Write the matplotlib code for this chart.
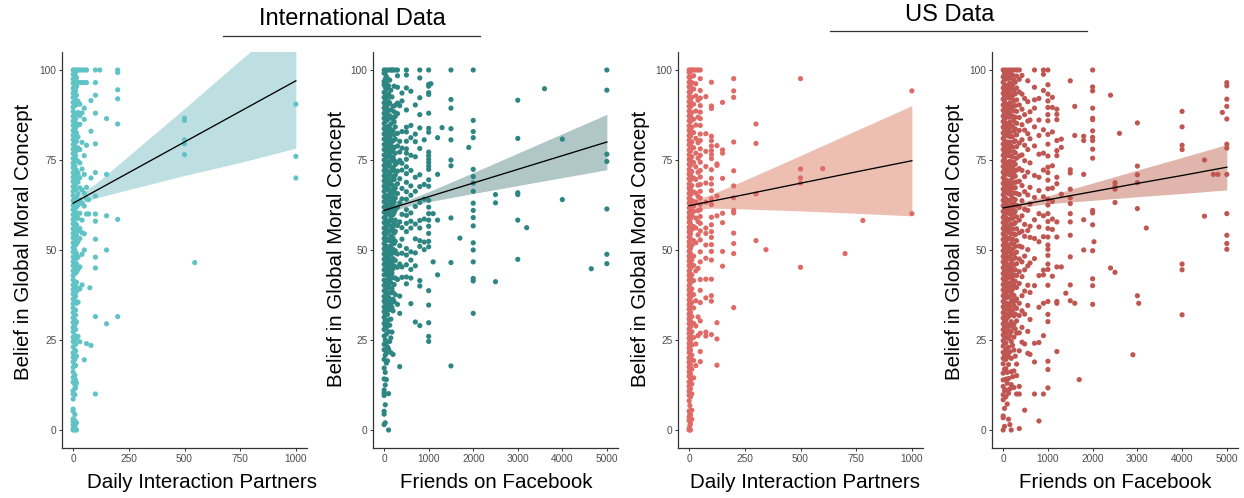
import matplotlib
matplotlib.use("Agg")
import matplotlib.pyplot as plt
from matplotlib.lines import Line2D

plt.rcParams['font.family'] = ['Liberation Sans', 'DejaVu Sans']

# ---------------- International data: daily interaction partners ----------------
intl_daily_x = [0, 8, 11, 15, 22, 30, 40, 50, 60, 70, 75, 80, 100, 120, 150, 200, 500, 546, 1000]
intl_daily_y = [
    [0, 0.5, 1.5, 2.4, 3.1, 5.2, 5.8, 8.6, 10, 10.9, 13.3, 14.6, 16.1, 17.4, 18.9, 20.2, 21.4, 23.1,
     24.6, 25.8, 27.3, 28.5, 29.9, 31.2, 32.6, 33.9, 35.1, 36.4, 37.8, 39, 40.3, 41.7, 42.9, 44.2,
     45.6, 46.8, 48.1, 49.5, 50.7, 52, 53.4, 54.6, 55.9, 57.3, 58.5, 59.8, 61.2, 62.4, 63.7, 65.1,
     66.3, 67.6, 69, 70.2, 71.5, 72.9, 74.1, 75.4, 76.8, 78, 79.3, 80.7, 81.9, 83.2, 84.6, 85.8,
     87.1, 88.5, 89.7, 91, 92.4, 93.6, 94.9, 96.3, 97.5, 98.8, 100],
    [0, 1, 2.6, 4.3, 9.8, 11.5, 12.5, 15.2, 18, 19.6, 22.2, 25, 26.2, 29.2, 30.5, 33.4, 35.7, 37.1,
     39.8, 41.2, 43.6, 45, 47.5, 49.9, 51.3, 53.8, 56.2, 57.6, 60.1, 62.9, 64.4, 66.8, 68.3, 70.7,
     73.3, 74.7, 77.2, 79.8, 81.1, 83.6, 86.2, 87.6, 90.1, 92.7, 94.1, 96.6, 99, 100],
    [0.3, 1.9, 11.8, 13.9, 17.9, 21.9, 23.8, 27.9, 31.9, 33.3, 35.8, 37.2, 39.7, 41.1, 43.6, 45,
     47.5, 48.9, 51.4, 52.8, 55.3, 56.7, 59.2, 60.6, 63.1, 64.5, 67, 68.4, 70.9, 72.3, 74.8, 76.2,
     78.7, 80.1, 82.6, 84, 86.5, 87.9, 90.4, 91.8, 94.3, 95.7, 98.2, 99.6],
    [0, 2, 13, 20.5, 25.4, 30, 35.2, 38.5, 41, 43.9, 46.2, 49, 51.8, 54.1, 57, 59.5, 61.9, 64.8, 67,
     69.6, 72.1, 75, 77.6, 80.2, 82.5, 85.1, 87.9, 90.4, 93, 95.4, 97.8, 100],
    [26, 35.5, 39.4, 44.6, 48, 52.3, 55.3, 58.8, 62.5, 65.7, 68.9, 71.4, 74.6, 78.3, 81.4, 84.7,
     88.2, 91.3, 96.5, 100],
    [24.5, 39.2, 45.3, 53.2, 56, 60.2, 63.8, 67.3, 70.1, 74.2, 77.9, 84.9, 87.3, 90.5, 96.5, 100],
    [40.3, 48.8, 54.8, 58.3, 62.9, 66.7, 72.5, 79.9, 88.1, 96.5, 100],
    [19.5, 50, 54.5, 62.2, 65.8, 71, 76.2, 86.3, 89.4, 96.5, 100],
    [24, 60, 64.3, 67.4, 79.1, 96.5, 100],
    [60, 64],
    [39.5],
    [23.5, 70, 83, 91.5],
    [10, 31.5, 45, 48, 53, 58, 60, 65, 71.5, 79.5, 88, 93, 96.5, 100],
    [100],
    [29.5, 50, 59.5, 71, 86.5],
    [31.5, 58.5, 85, 92, 94.5, 99.3, 100],
    [76.5, 79.5, 80.6, 86, 86.6],
    [46.5],
    [70, 76, 90.5],
]
intl_daily_fit_x = [0, 100, 250, 500, 750, 1000]
intl_daily_fit = [63, 66.4, 71.5, 80, 88.5, 97]
intl_daily_lo = [61.8, 64.4, 66.8, 70.7, 74.3, 78.3]
intl_daily_hi = [64.2, 68.4, 76.2, 89.3, 102.7, 115.7]

# ---------------- International data: friends on Facebook ----------------
intl_fb_x = [0, 25, 50, 75, 100, 125, 150, 175, 200, 225, 250, 300, 350, 400, 500, 600, 700, 800,
             900, 1000, 1050, 1100, 1200, 1300, 1500, 1700, 1900, 2000, 2500, 3000, 3200, 3600,
             4000, 4650, 5000]
intl_fb_y = [
    [1.5, 4.4, 5.2, 9.6, 10.3, 11.1, 14.2, 17.2, 19.6, 22.3, 23.8, 26.1, 27.9, 29.6, 31.3, 32.9,
     34.2, 35.8, 37.1, 38.7, 40.2, 41.6, 43.1, 44.5, 46, 47.4, 48.9, 50.3, 51.8, 53.2, 54.7, 56.1,
     57.6, 59, 60.5, 61.9, 63.4, 64.8, 66.3, 67.7, 69.2, 70.6, 72.1, 73.5, 75, 76.4, 77.9, 79.3,
     80.8, 82.2, 83.7, 85.1, 86.6, 88, 89.5, 90.9, 92.4, 93.8, 95.9, 96.8, 99.1, 100],
    [2, 7, 12.5, 16, 20.8, 25, 28.7, 30.5, 32.1, 33.7, 35.3, 36.9, 38.4, 40, 41.6, 43.2, 44.8,
     46.3, 47.9, 49.5, 51.1, 52.6, 54.2, 55.8, 57.4, 58.9, 60.5, 62.1, 63.7, 65.2, 66.8, 68.4, 70,
     71.5, 73.1, 74.7, 76.3, 77.8, 79.4, 81, 82.6, 84.1, 85.7, 87.3, 88.9, 90.4, 92, 93.6, 95.2,
     97.5, 99.4],
    [14, 18.6, 21.4, 24.3, 26.6, 28.5, 30.3, 33.1, 35.9, 37.4, 39.3, 41.2, 43.4, 45.3, 47.2, 49.2,
     51.1, 52.7, 54.6, 56.5, 58.1, 59.9, 61.8, 63.5, 64.9, 66.8, 68.7, 70.3, 72.2, 73.9, 75.6,
     77.3, 79.2, 80.6, 82.5, 84.1, 86, 87.7, 89.6, 91.1, 92.9, 94.8, 96.3, 98.2, 100],
    [19.2, 23.1, 29.4, 32.1, 35, 38.2, 40.6, 43, 45.7, 48.1, 50.3, 52.9, 55.3, 57.6, 60.2, 62.5,
     64.1, 67.4, 69.9, 71.6, 74.5, 76.9, 79.4, 81.5, 83.9, 86.2, 88.6, 90.3, 92.8, 95.1, 97.6],
    [0, 10.1, 22.5, 27.3, 30.6, 34.2, 36.8, 39.9, 42.1, 44.2, 46.4, 48.5, 50.7, 53.1, 55.2, 57.9,
     60.1, 62.3, 64.7, 66.9, 69.2, 71.4, 73.8, 76.1, 78.3, 80.7, 82.9, 84.4, 86.5, 88.8, 91.2,
     93.4, 95.6, 100],
    [24.6, 29.1, 33.4, 36.3, 39.5, 41.8, 44.9, 47.3, 50, 52.6, 55.3, 58.1, 60.9, 63.2, 65.7, 68.2,
     70.8, 73.3, 75.9, 78.7, 81.3, 83.7, 87.3, 90.8, 92.6, 97.2],
    [21.5, 25.6, 30.8, 35.2, 38.1, 40.9, 43.3, 46.1, 48.8, 51.2, 53.9, 56.7, 59.3, 61.8, 64.2,
     66.4, 69.1, 71.8, 74.6, 77.1, 79.4, 82.2, 85, 88.9, 94.4, 100],
    [27.2, 34.1, 39.3, 43.6, 46.7, 49.9, 52.5, 55.5, 58.2, 61.1, 63.9, 66.7, 69.4, 72.2, 74.8,
     77.7, 80.5, 83.3, 86.8, 92.5, 100],
    [21, 33.1, 36.3, 38.2, 42.3, 44.8, 47.6, 50.2, 53.3, 56.4, 59.8, 62.7, 65.1, 67.9, 70.4, 72.9,
     75.8, 78.1, 80.3, 83.1, 86.3, 89.9, 100],
    [35.6, 40.4, 45.6, 49.2, 51.8, 54.7, 57.6, 60.4, 63.3, 66.1, 69.6, 72.1, 74.9, 78.5, 82, 85.6,
     88.4, 95.5],
    [37.6, 42.2, 47.1, 49.8, 52.4, 55.2, 58.3, 61.1, 64.4, 67.2, 70.8, 73.7, 76.9, 80.8, 84.2,
     87.1, 90.2, 100],
    [34.9, 41.8, 45.2, 48.9, 56.8, 61.9, 65.7, 68.4, 71.9, 74.3, 78.9, 82.4, 87.9, 90.8, 95.2,
     98.4, 100],
    [17.6, 32.4, 37.2, 46.1, 51.2, 57.8, 63.1, 69.8, 74.9, 77.2, 80.2, 90.1],
    [42.4, 45.3, 49.1, 53, 56.2, 59.9, 64.2, 67.1, 72.2, 74.1, 78.3, 82.9, 91.4, 93.6],
    [40.6, 42.5, 45.9, 48.6, 50.4, 55.1, 57.4, 59.6, 61.2, 64.1, 66.2, 68.8, 71.2, 73.1, 75.2,
     76.9, 78.1, 80.2, 82.8, 84.1, 88.9, 95, 98.6, 100],
    [35.1, 42.2, 44.6, 47.2, 49.5, 56.1, 58, 60.3, 65.2, 67.8, 72.1, 76.3, 81.2, 84.6, 94.1],
    [30, 45.6, 49.2, 53.1, 57.2, 62.1, 66.3, 70.2, 75.9, 80.1, 82.2, 90.3],
    [29, 40, 41.5, 51, 52.6, 56.1, 58.2, 63.2, 67.6, 70.9, 78.2, 83.9, 87.6, 92.3, 97.8, 100],
    [50.1, 52.2, 58.6, 64.1, 68.2, 80.6],
    [24.6, 26, 29.8, 34.7, 38.7, 50.9, 52.4, 54.6, 56.6, 58.3, 60.1, 61.9, 63.8, 67.7, 69.5, 72.4,
     73.3, 74.3, 75.2, 76.2, 77.2, 82.7, 83.8, 88, 93.2, 93.7, 95.5, 96, 100],
    [96.2],
    [46.7, 60.1],
    [43.1, 58.3, 71, 81.2],
    [84],
    [17.8, 46.5, 58.9, 73.4, 75, 80.6, 83.7, 89.4, 91.8, 100],
    [53.3],
    [78.5],
    [32.4, 41.4, 42.1, 46.7, 50, 52, 56.7, 59, 61, 63, 66.3, 68.6, 70.4, 72.4, 81.2, 82.9, 86, 100],
    [41.2, 63.1, 65.4],
    [47.4, 58.3, 65.4, 65.9, 81, 91.6],
    [56.2],
    [94.8],
    [64, 80.8],
    [44.8],
    [46.2, 48.8, 61.4, 74.6, 76.6, 94.4, 100],
]
intl_fb_fit_x = [0, 500, 1000, 2000, 3000, 4000, 5000]
intl_fb_fit = [61, 62.9, 64.8, 68.6, 72.4, 76.2, 80]
intl_fb_lo = [60.05, 62.05, 63.4, 65.7, 67.9, 70.1, 72.3]
intl_fb_hi = [61.95, 63.75, 66.2, 71.5, 76.9, 82.3, 87.7]

# ---------------- US data: daily interaction partners ----------------
us_daily_x = [0, 3, 6, 12, 20, 30, 40, 50, 75, 100, 125, 150, 200, 300, 345, 500, 600, 700, 780,
              1000]
us_daily_y = [
    [0, 0.3, 2.6, 3.6, 5.3, 8.1, 9.6, 10.7, 12.2, 13.4, 14.9, 16.2, 17.4, 18.8, 20.1, 21.5, 22.8,
     24.1, 25.4, 26.8, 28.1, 29.5, 30.8, 32.2, 33.5, 34.8, 36.2, 37.5, 38.9, 40.2, 41.6, 42.9,
     44.2, 45.6, 46.9, 48.3, 49.6, 51, 52.3, 53.6, 55, 56.3, 57.7, 59, 60.4, 61.7, 63, 64.4, 65.7,
     67.1, 68.4, 69.8, 71.1, 72.4, 73.8, 75.1, 76.5, 77.8, 79.2, 80.5, 81.8, 83.2, 84.5, 85.9,
     87.2, 88.6, 89.9, 91.2, 92.6, 93.9, 95.3, 96.6, 98, 99.3, 100],
    [1.2, 4.5, 6.8, 11.4, 15.5, 17.9, 19.4, 21.9, 23.5, 25.9, 27.4, 29.9, 31.4, 33.9, 35.5, 37.9,
     39.5, 41.9, 43.5, 45.9, 47.5, 49.9, 51.5, 53.9, 55.5, 57.9, 59.5, 61.9, 63.5, 65.9, 67.5,
     69.9, 71.5, 73.9, 75.5, 77.9, 79.5, 81.9, 83.5, 85.9, 87.5, 89.9, 91.5, 93.9, 95.5, 97.9, 99.5],
    [0, 1.8, 4.2, 9.2, 11.5, 13.9, 15.6, 18.1, 19.9, 22.2, 24.6, 26.1, 28.7, 30.2, 32.7, 34.3,
     36.8, 38.3, 40.9, 42.4, 44.9, 46.5, 49, 50.5, 53.1, 54.6, 57.2, 58.7, 61.2, 62.8, 65.3, 66.8,
     69.4, 70.9, 73.5, 75, 77.5, 79.1, 81.6, 83.1, 85.7, 87.2, 89.8, 91.3, 93.9, 95.4, 98, 100],
    [3, 5.5, 10, 12.8, 16.9, 20.8, 23.6, 27.3, 31.5, 35.4, 39.2, 43.1, 47.2, 51.3, 55.7, 59.6,
     63.8, 67.9, 71.8, 75.9, 80, 84.1, 88.2, 92.4, 96.5, 100],
    [14.5, 19.3, 25.7, 29.6, 33.9, 37.6, 41.5, 45.7, 48.3, 52.6, 56.5, 60.7, 62.2, 66.1, 70, 74.3,
     78.4, 82.6, 86.3, 90.5, 94.7, 98.4, 100],
    [17.9, 23.9, 28.9, 35.9, 44.2, 52, 56.1, 58.9, 63.4, 65.8, 69.6, 73.1, 76.9, 81, 84.7, 88.6,
     92.8, 96.2, 100],
    [26.2, 31.4, 44.9, 54.2, 57.9, 60.9, 64.9, 68, 71.6, 75.5, 79.8, 86.9, 91.6, 100],
    [19, 21.8, 26.9, 30.3, 35.4, 38.8, 41.8, 46.7, 49.5, 52.8, 55.3, 57.4, 59.3, 61.2, 62.7, 64.4,
     66.3, 68.2, 70.3, 72.1, 74.4, 76.3, 78.1, 80.4, 82.2, 84.6, 86.5, 88.3, 90.1, 92.2, 94.3,
     97.6, 100],
    [26.1, 27.2, 36.7, 41.9, 47.7, 51.4, 54.6, 56.1, 63.3, 68.6, 73.2, 77.4, 82.3, 92.6],
    [26.5, 35.8, 37.3, 41.9, 47.2, 49.6, 51.5, 53.5, 55.1, 57, 59.1, 62.6, 64.2, 66.5, 68.3, 69.9,
     72.3, 75.4, 76.5, 77.6, 78.9, 80.4, 81.6, 89.3, 90, 96.6],
    [18, 25.3, 29.8, 59.5, 65, 73.5, 73.9, 79],
    [45.5, 49.6, 57.6, 60.2, 69.9, 76.9, 77.8, 91],
    [34, 49, 51.8, 54.7, 60.3, 61, 64.5, 67.8, 72, 80, 92.4, 94.2, 97.6],
    [52.6, 65.6, 79.6, 85],
    [50.1],
    [45.2, 68.6, 70, 72.5, 97.6],
    [72.6],
    [49],
    [58.2],
    [60.1, 94.2],
]
us_daily_fit_x = [0, 100, 250, 500, 750, 1000]
us_daily_fit = [62.3, 63.55, 65.4, 68.55, 71.7, 74.8]
us_daily_lo = [61.1, 61.65, 61.4, 60.85, 60.2, 59.5]
us_daily_hi = [63.5, 65.45, 69.4, 76.25, 83.2, 90.1]

# ---------------- US data: friends on Facebook ----------------
us_fb_x = [0, 30, 60, 90, 120, 150, 180, 210, 240, 270, 300, 360, 420, 480, 550, 600, 700, 800,
           900, 1000, 1100, 1200, 1300, 1400, 1500, 1600, 1700, 1800, 2000, 2030, 2400, 2500,
           2600, 2900, 3000, 3030, 3200, 4000, 4500, 4700, 4800, 4900, 5000]
us_fb_y = [
    [0, 3.4, 3.9, 8.4, 9.8, 12.1, 13.9, 15.8, 18.4, 19.9, 21.6, 23.3, 24.8, 26.4, 27.9, 29.5,
     31.1, 32.6, 34.2, 35.7, 37.3, 38.9, 40.4, 42, 43.5, 45.1, 46.7, 48.2, 49.8, 51.3, 52.9, 54.5,
     56, 57.6, 59.1, 60.7, 62.3, 63.8, 65.4, 66.9, 68.5, 70.1, 71.6, 73.2, 74.7, 76.3, 77.9, 79.4,
     81, 82.5, 84.1, 85.7, 87.2, 88.8, 90.3, 91.9, 93.5, 95, 96.6, 98.1, 100],
    [1, 6, 11, 16.9, 20.8, 24.1, 25.7, 27.2, 28.8, 30.4, 32, 33.5, 35, 36.6, 38.1, 39.7, 41.2,
     42.8, 44.3, 45.9, 47.5, 49, 50.6, 52.1, 53.7, 55.3, 56.8, 58.4, 59.9, 61.5, 63, 64.6, 66.2,
     67.7, 69.3, 70.8, 72.4, 74, 75.5, 77.1, 78.6, 80.2, 81.8, 83.3, 84.9, 86.4, 88, 89.6, 91.1,
     92.7, 94.3, 95.8, 97.4, 99],
    [9.2, 11.1, 14.1, 17, 19.6, 22.4, 24.2, 26.9, 28.6, 30.3, 32.1, 33.9, 35.3, 37.9, 39.4, 41.4,
     43.2, 44.8, 46.9, 48.7, 50.5, 52.1, 53.8, 55.4, 57.3, 59, 60.9, 62.6, 64.2, 66.1, 67.7, 69.5,
     71.2, 72.9, 74.5, 76.6, 78.2, 80.1, 81.8, 83.4, 85.3, 86.9, 88.6, 90.4, 92.2, 93.9, 95.7,
     97.4, 99.1, 100],
    [7.2, 13, 16, 21.3, 25.6, 29.1, 31.2, 34.5, 36.8, 40.3, 42.4, 45.8, 47.9, 51.4, 53.1, 56.5,
     58.1, 61.8, 63.5, 66.9, 68.6, 72.1, 73.8, 77.2, 79.1, 82.6, 84.3, 87.9, 89.5, 93.1, 94.8, 98.3],
    [3, 10.2, 14.3, 18.2, 20.4, 23, 25.5, 27.6, 29.2, 31.5, 33.2, 35, 36.9, 38.7, 40.8, 42.4,
     44.1, 45.8, 47.6, 49.5, 51.2, 53.1, 54.9, 56.7, 58.5, 60.2, 62, 63.7, 65.6, 67.3, 69.1, 71,
     72.7, 74.4, 76.2, 77.9, 79.8, 81.6, 83.4, 85.1, 86.9, 88.7, 90.5, 92.3, 94.1, 95.9, 97.7, 100],
    [1.5, 11.4, 21.7, 26.2, 28.9, 31.9, 34.3, 37.2, 39.9, 42.8, 45.1, 48, 50.4, 53.3, 55.8, 58.6,
     61.1, 63.9, 66.5, 69.2, 71.9, 74.6, 77.4, 80, 82.7, 85.5, 88.2, 90.9, 93.7, 96.4, 99.2],
    [0, 12.6, 16.2, 19.9, 24.6, 27.3, 30.1, 32.8, 35.6, 38.2, 41, 43.6, 46.4, 49, 51.8, 54.5,
     57.2, 59.9, 62.6, 65.3, 68, 70.7, 73.4, 76.1, 78.8, 81.5, 84.2, 86.9, 89.6, 92.3, 95, 97.8,
     100],
    [14.8, 23.5, 28.7, 33.2, 36.1, 39.1, 41.9, 44.6, 47.4, 50.2, 53, 55.9, 58.8, 61.5, 64.4, 67.3,
     70.1, 72.9, 75.8, 78.6, 81.5, 84.4, 87.2, 90.1, 92.9, 95.8, 98.6],
    [11.8, 16.4, 22.2, 25.8, 29.4, 31.7, 34.6, 37.4, 40.3, 43.1, 45.9, 48.8, 51.6, 54.5, 57.3,
     60.2, 63, 65.9, 68.7, 71.6, 74.4, 77.3, 80.1, 83, 85.8, 88.7, 91.5, 94.4, 97.2, 100],
    [20.5, 28.1, 32.2, 35.9, 41.3, 44.5, 47.8, 51, 54.2, 57.6, 60.8, 64, 67.3, 70.5, 73.8, 77,
     80.3, 83.6, 86.9, 90.1, 93.4, 96.6],
    [10, 15.1, 18.3, 26.9, 30.3, 33.8, 36.4, 39.6, 42.9, 46.2, 49.4, 52.6, 55.9, 59.2, 62.4,
     65.7, 68.9, 72.2, 75.5, 78.7, 82, 85.2, 88.5, 91.7, 95, 98.3, 100],
    [0.4, 10, 12.1, 22, 27, 31.8, 35.2, 40.7, 44, 47.5, 51.1, 54.8, 58.3, 61.8, 65.4, 69.1, 72.6,
     76.1, 79.7, 83.2, 86.8, 90.3, 93.9, 97.4, 100],
    [24.4, 28.5, 33.1, 37.3, 42.6, 46.7, 50.8, 55.2, 59.5, 63.7, 67.9, 72.1, 76.4, 80.6, 84.8,
     89.1, 93.3, 98.5],
    [5.5, 23.9, 32.2, 38.6, 44.5, 48.3, 53.8, 57.1, 61.3, 66.2, 70.4, 74.8, 79.1, 83.3, 87.6, 92.1],
    [21.3, 27.4, 34.6, 40.2, 45.6, 50.1, 55.4, 61, 65.3, 71.6, 77.9, 82.3, 85.8, 91.2, 97],
    [21, 30.7, 38.2, 46.4, 53.5, 56.6, 62.8, 67.4, 74.2, 80.9, 86.1, 88.4],
    [10, 18.9, 24.1, 40.1, 47.6, 53.2, 58.4, 64.6, 70.7, 78.9, 84.2, 89.4, 91.7, 95.2, 100],
    [2.5, 24.3, 34.1, 42.9, 52.3, 56.4, 60.1, 66.5, 70.2, 76.6, 81.8, 86.1, 92.1],
    [10, 26.2, 35.2, 43.1, 44.4, 53.7, 59.5, 64.8, 72.2, 76.9, 83.4, 94.3, 98.8, 100],
    [11.7, 16.8, 19.1, 30.1, 32.1, 35.7, 40.2, 44.6, 46.1, 48.5, 50.2, 51.4, 53.6, 56, 57.9,
     60.1, 62.5, 64.1, 67, 69.4, 71.5, 73, 76.1, 79.4, 82.1, 85.9, 87.6, 89.6, 91.4, 93.3, 95.9,
     100],
    [42.7, 55.7, 58.6, 63.5, 67.2, 73.4, 82.8, 89.6, 92.4],
    [21.8, 35.2, 35.7, 45.3, 53.6, 57.8, 68.4, 70.2, 76.2, 77.6, 80.4, 86.2, 87.7, 89.1],
    [45.3, 65.5, 78.5, 80.8],
    [38],
    [35.9, 40.3, 48.1, 54.1, 57.8, 60.1, 62.9, 64.5, 66.9, 71.4, 72.3, 97],
    [35.2, 81.8, 89.9],
    [14],
    [50, 58.4, 71, 80.4, 81.6],
    [34.9, 40.1, 42, 49.8, 57, 60.3, 61, 75.5, 78, 80.4, 81.3, 83.1, 86.2, 86.6, 89.4, 94.2,
     95.3, 100],
    [52.3],
    [45, 93],
    [43.8, 63.2, 66.9, 67.7, 68.7],
    [82.4],
    [20.9],
    [37.3, 61.5, 68.7, 70.9, 73.3, 85.3],
    [35.2],
    [56.1],
    [32, 44.5, 46.1, 77.9, 79.1, 84.2, 88.5],
    [59.4, 75],
    [71],
    [71],
    [88.2],
    [50.2, 51.8, 54.1, 60.1, 71, 78.3, 79.4, 86.4, 89.9, 91.9, 95.6, 96.5],
]
us_fb_fit_x = [0, 500, 1000, 2000, 3000, 4000, 5000]
us_fb_fit = [61.7, 62.8, 63.95, 66.2, 68.5, 70.7, 73]
us_fb_lo = [60.9, 62.0, 62.85, 63.8, 64.8, 65.7, 66.7]
us_fb_hi = [62.5, 63.6, 65.05, 68.6, 72.2, 75.7, 79.3]

y_ticks = [0, 25, 50, 75, 100]
daily_ticks = [0, 250, 500, 750, 1000]
fb_ticks = [0, 1000, 2000, 3000, 4000, 5000]

W, H = 1244, 498
fig = plt.figure(figsize=(W / 100, H / 100), dpi=100)


def px_box(left, right, top=52, bottom=448):
    return [left / W, (H - bottom) / H, (right - left) / W, (bottom - top) / H]


def panel(box, xs, ys, fx, fy, lo, hi, pt_color, band_color, xmax, ticks):
    ax = fig.add_axes(box)
    px, py = [], []
    for x, col in zip(xs, ys):
        px.extend([x] * len(col))
        py.extend(col)
    ax.fill_between(fx, lo, hi, color=band_color, lw=0, zorder=1)
    ax.scatter(px, py, s=14, color=pt_color, edgecolors='none', zorder=2)
    ax.plot(fx, fy, color='black', lw=0.95, zorder=3)
    pad = xmax * 0.05
    ax.set_xlim(-pad, xmax + pad)
    ax.set_ylim(-5, 105)
    ax.set_xticks(ticks)
    ax.set_yticks(y_ticks)
    for s in ('top', 'right'):
        ax.spines[s].set_visible(False)
    for s in ('left', 'bottom'):
        ax.spines[s].set_color('#333333')
        ax.spines[s].set_linewidth(0.9)
    ax.tick_params(direction='out', length=2.5, width=0.7, color='#333333',
                   labelsize=7.3, labelcolor='#4D4D4D', pad=1.5)
    return ax


panel(px_box(62, 307), intl_daily_x, intl_daily_y, intl_daily_fit_x, intl_daily_fit,
      intl_daily_lo, intl_daily_hi, '#60C4C6', '#BEDFE2', 1000, daily_ticks)
panel(px_box(373, 618), intl_fb_x, intl_fb_y, intl_fb_fit_x, intl_fb_fit,
      intl_fb_lo, intl_fb_hi, '#2E8683', '#B0C6C7', 5000, fb_ticks)
panel(px_box(678, 923), us_daily_x, us_daily_y, us_daily_fit_x, us_daily_fit,
      us_daily_lo, us_daily_hi, '#DF6A66', '#EDBFB3', 1000, daily_ticks)
panel(px_box(992, 1238), us_fb_x, us_fb_y, us_fb_fit_x, us_fb_fit,
      us_fb_lo, us_fb_hi, '#C05651', '#E0B5AB', 5000, fb_ticks)


def ftext(x, y, s, **kw):
    fig.text(x / W, (H - y) / H, s, **kw)


ylab = "Belief in Global Moral Concept"
for cx, cy in [(24, 241.5), (336, 248.5), (640.5, 248.5), (955, 241.5)]:
    ftext(cx, cy, ylab, rotation=90, ha='center', va='center', fontsize=14.8, color='black')

for cx, s in [(202, "Daily Interaction Partners"), (496, "Friends on Facebook"),
              (805, "Daily Interaction Partners"), (1115, "Friends on Facebook")]:
    ftext(cx, 482, s, ha='center', va='center', fontsize=14.8, color='black')

ftext(352, 19, "International Data", ha='center', va='center', fontsize=17, color='black')
ftext(950, 15, "US Data", ha='center', va='center', fontsize=17, color='black')
for x0, x1, y in [(223, 480, 36), (830, 1087, 31)]:
    fig.add_artist(Line2D([x0 / W, x1 / W], [(H - y) / H, (H - y) / H],
                          transform=fig.transFigure, color='#333333', lw=0.9))

fig.savefig("out.png", dpi=100)
